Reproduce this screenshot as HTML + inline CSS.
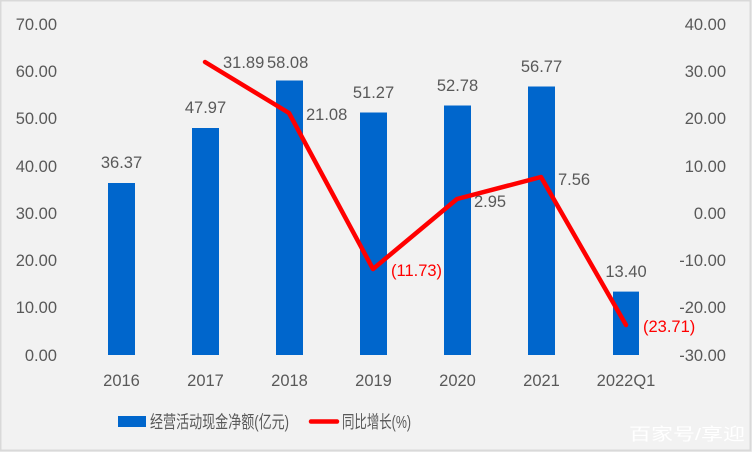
<!DOCTYPE html>
<html><head><meta charset="utf-8"><style>
html,body{margin:0;padding:0;background:#f2f2f2}
svg{display:block}
text{font-family:"Liberation Sans","Noto Sans CJK SC",sans-serif;fill:#595959;font-size:16.5px}
</style></head><body>
<svg width="752" height="452" viewBox="0 0 752 452">
<rect x="0.5" y="0.5" width="750" height="450" fill="#f2f2f2" stroke="#d9d9d9" stroke-width="2"/>
<g text-anchor="end">
<text x="57" y="30">70.00</text><text x="57" y="77">60.00</text><text x="57" y="124">50.00</text><text x="57" y="172">40.00</text><text x="57" y="219">30.00</text><text x="57" y="266">20.00</text><text x="57" y="313">10.00</text><text x="57" y="361">0.00</text>
</g>
<g text-anchor="end">
<text x="726" y="30">40.00</text><text x="726" y="77">30.00</text><text x="726" y="124">20.00</text><text x="726" y="172">10.00</text><text x="726" y="219">0.00</text><text x="726" y="266">-10.00</text><text x="726" y="313">-20.00</text><text x="726" y="361">-30.00</text>
</g>
<g fill="#0066cc">
<rect x="108" y="183" width="27" height="172"/>
<rect x="192" y="128" width="27" height="227"/>
<rect x="276" y="80.5" width="27" height="274.5"/>
<rect x="360" y="112.5" width="27" height="242.5"/>
<rect x="444" y="105.5" width="27" height="249.5"/>
<rect x="528" y="86.5" width="27" height="268.5"/>
<rect x="613" y="291.6" width="26" height="63.4"/>
</g>
<g text-anchor="middle">
<text x="121.5" y="168">36.37</text><text x="205.5" y="113">47.97</text><text x="373.5" y="98">51.27</text><text x="457.5" y="91">52.78</text><text x="541.5" y="72">56.77</text><text x="626" y="277">13.40</text>
<text x="121.5" y="386">2016</text><text x="205.5" y="386">2017</text><text x="289.5" y="386">2018</text><text x="373.5" y="386">2019</text><text x="457.5" y="386">2020</text><text x="541.5" y="386">2021</text><text x="626" y="386">2022Q1</text>
</g>
<text x="223" y="68">31.89</text><text x="267" y="68">58.08</text>
<text x="306" y="120">21.08</text>
<text x="474" y="207">2.95</text>
<text x="558" y="185">7.56</text>
<text x="391" y="276" style="fill:#ff0000">(11.73)</text>
<text x="643" y="332" style="fill:#ff0000">(23.71)</text>
<polyline points="205,62 289,113 373,269 457,199 541,177 626,325" fill="none" stroke="#ff0000" stroke-width="4.5" stroke-linejoin="round" stroke-linecap="round"/>
<rect x="118" y="416" width="28" height="11" fill="#0066cc"/>
<text x="150" y="428" textLength="139" lengthAdjust="spacingAndGlyphs" style="font-size:17.5px">经营活动现金净额(亿元)</text>
<line x1="311" y1="421.5" x2="337" y2="421.5" stroke="#ff0000" stroke-width="4.5" stroke-linecap="round"/>
<text x="342" y="428" textLength="69" lengthAdjust="spacingAndGlyphs" style="font-size:17.5px">同比增长(%)</text>
<text x="629" y="440" textLength="116" lengthAdjust="spacingAndGlyphs" style="fill:#ffffff;font-size:17px">百家号/享迎</text>
</svg>
</body></html>
